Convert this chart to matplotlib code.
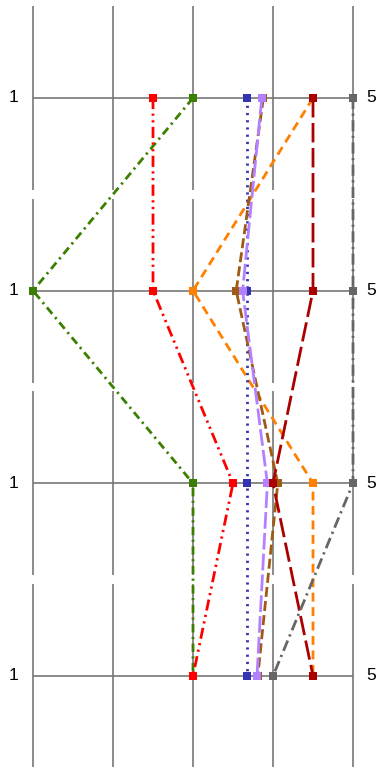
import matplotlib
matplotlib.use("Agg")
import matplotlib.pyplot as plt

# rows top to bottom, every row runs on the same 1..5 scale
rows = [0, 1, 2, 3]
x_ticks = [1, 2, 3, 4, 5]
left_labels = ["1", "1", "1", "1"]
right_labels = ["5", "5", "5", "5"]

green = [3.0, 1.0, 3.0, 3.0]
red = [2.5, 2.5, 3.5, 3.0]
orange = [4.5, 3.0, 4.5, 4.5]
blue = [3.67, 3.67, 3.67, 3.67]
brown = [3.88, 3.54, 4.06, 3.81]
lavender = [3.86, 3.62, 3.93, 3.80]
darkred = [4.5, 4.5, 4.0, 4.5]
gray = [5.0, 5.0, 5.0, 4.0]

series = [
    (green, "#3a7f00", (0, (3, 1.6, 0.8, 1.6))),
    (red, "#ff0000", (0, (4, 1.6, 0.8, 1.6, 0.8, 1.6))),
    (orange, "#ff7f00", (0, (3.2, 2))),
    (blue, "#3333b3", (0, (0.8, 1.8))),
    (brown, "#a05a14", (0, (3.6, 1.5))),
    (lavender, "#b380ff", (0, (6, 1.5))),
    (darkred, "#aa0000", (0, (7, 2))),
    (gray, "#666666", (0, (4, 1.6, 0.8, 1.6))),
]

W, H = 376, 767
fig = plt.figure(figsize=(W / 100, H / 100), dpi=100)
ax = fig.add_axes([0, 0, 1, 1])
ax.set_axis_off()

# x=1 sits at 33px, x=5 at 353px; rows at 98px with ~192.7px pitch
ax.set_xlim(1 - 33 / 80, 5 + (W - 353) / 80)
pitch = (676 - 98) / 3
ax.set_ylim((H - 98) / pitch, -98 / pitch)

grid_col = "#777777"
half = 0.477
for r in rows:
    ax.vlines(x_ticks, r - half, r + half, colors=grid_col, lw=1.2, zorder=1)
    ax.hlines(r, x_ticks[0], x_ticks[-1], colors=grid_col, lw=1.2, zorder=1)
    ax.text(x_ticks[0] - 19 / 80, r, left_labels[r], ha="center", va="center",
            fontsize=12.5, family="Liberation Sans")
    ax.text(x_ticks[-1] + 18 / 80, r, right_labels[r], ha="center", va="center",
            fontsize=12.5, family="Liberation Sans")

for i, (vals, col, ls) in enumerate(series):
    ax.plot(vals, rows, color=col, lw=2.0, linestyle=ls, marker="s",
            markersize=6.2, markeredgewidth=0, clip_on=False, zorder=3 + i)

fig.savefig("out.png", dpi=100)
